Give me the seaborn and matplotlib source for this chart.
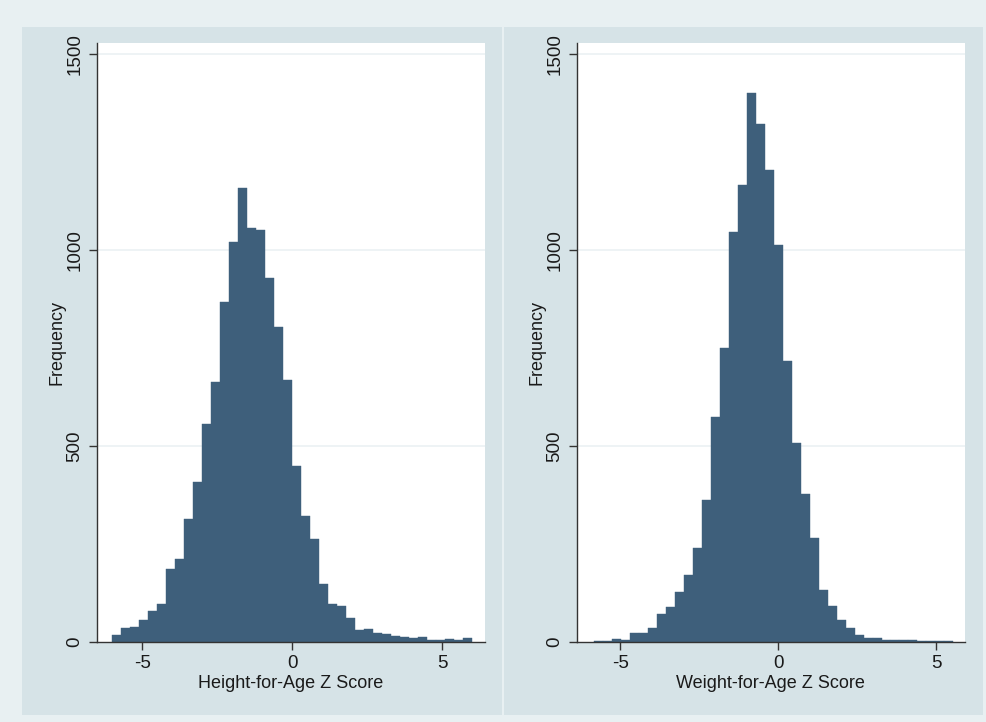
import numpy as np
import pandas as pd
import matplotlib
matplotlib.use("Agg")
import matplotlib.pyplot as plt
from matplotlib.patches import Rectangle
import seaborn as sns

# counts per bin (40 bins per panel)
haz_counts = [17, 35, 38, 56, 79, 96, 185, 211, 314, 409,
              557, 663, 867, 1021, 1158, 1056, 1052, 929, 804, 668,
              448, 322, 262, 147, 96, 91, 62, 31, 34, 23,
              21, 16, 13, 10, 12, 6, 4, 8, 6, 9]
waz_counts = [2, 3, 7, 6, 24, 24, 35, 71, 90, 127,
              170, 241, 361, 573, 750, 1047, 1165, 1401, 1321, 1203,
              1012, 717, 508, 377, 266, 132, 92, 57, 35, 17,
              9, 11, 5, 5, 6, 5, 3, 3, 3, 3]

# bin range of each histogram
haz_range = (-6.0, 6.0)
waz_range = (-5.82, 5.54)

x_labels = ["Height-for-Age Z Score", "Weight-for-Age Z Score"]
y_ticks = [0, 500, 1000, 1500]
x_ticks = [-5, 0, 5]

bar_color = "#3e5f7b"
outer_bg = "#e8f0f2"
panel_bg = "#d6e3e7"
grid_color = "#ebf1f3"

sns.set_style("white")
plt.rcParams["font.family"] = ["Liberation Sans", "DejaVu Sans"]

fig = plt.figure(figsize=(9.87, 7.22), dpi=100)
fig.patch.set_facecolor(outer_bg)

# the two grey panels behind the plots
fig.add_artist(Rectangle((22 / 987, 7 / 722), 480 / 987, 688 / 722,
                         transform=fig.transFigure, facecolor=panel_bg,
                         edgecolor="none", zorder=-5))
fig.add_artist(Rectangle((504 / 987, 7 / 722), 479 / 987, 688 / 722,
                         transform=fig.transFigure, facecolor=panel_bg,
                         edgecolor="none", zorder=-5))

ax1 = fig.add_axes([96.7 / 987, 80 / 722, 388.3 / 987, 599 / 722])
ax2 = fig.add_axes([576.7 / 987, 80 / 722, 388.3 / 987, 599 / 722])

panels = [
    (ax1, haz_counts, haz_range, (-6.52, 6.42), x_labels[0]),
    (ax2, waz_counts, waz_range, (-6.38, 5.91), x_labels[1]),
]

for ax, counts, rng, xlim, xlab in panels:
    edges = np.linspace(rng[0], rng[1], len(counts) + 1)
    df = pd.DataFrame({"z": (edges[:-1] + edges[1:]) / 2, "n": counts})
    ax.set_facecolor("white")
    for y in y_ticks[1:]:
        ax.axhline(y, color=grid_color, lw=1.2, zorder=0)
    sns.histplot(data=df, x="z", weights="n", bins=edges.tolist(), ax=ax,
                 color=bar_color, alpha=1, edgecolor=bar_color,
                 linewidth=0.3, zorder=2)
    ax.set_xlim(*xlim)
    ax.set_ylim(0, 1528)
    ax.set_xticks(x_ticks)
    ax.set_yticks(y_ticks)
    ax.set_xticklabels([str(t) for t in x_ticks])
    ax.set_yticklabels([str(t) for t in y_ticks], rotation=90, va="center")
    ax.tick_params(axis="both", direction="out", length=6, width=1,
                   color="#333333", labelsize=13.5, labelcolor="#1a1a1a",
                   pad=3.5, bottom=True, left=True)
    for side in ["top", "right"]:
        ax.spines[side].set_visible(False)
    for side in ["left", "bottom"]:
        ax.spines[side].set_color("#333333")
        ax.spines[side].set_linewidth(1)
    ax.set_xlabel(xlab, fontsize=13, color="#1a1a1a", labelpad=2)
    ax.set_ylabel("Frequency", fontsize=13, color="#1a1a1a", labelpad=1)

fig.savefig("out.png", dpi=100, facecolor=fig.get_facecolor())
